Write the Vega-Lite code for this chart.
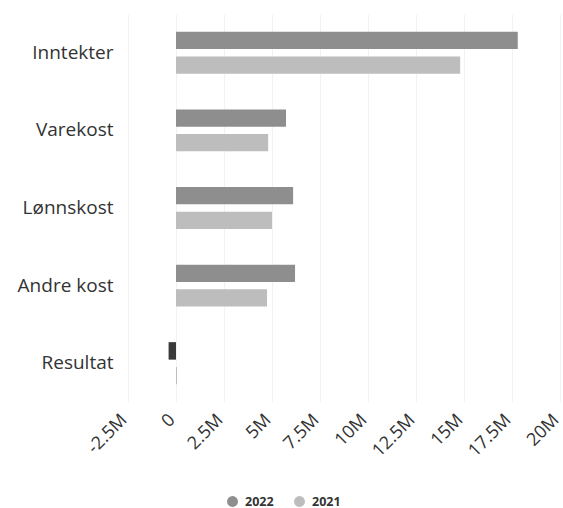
{
  "$schema": "https://vega.github.io/schema/vega-lite/v6.json",
  "width": 432,
  "height": 388,
  "autosize": "none",
  "padding": {"left": 128, "top": 14, "right": 3, "bottom": 106},
  "background": "white",
  "config": {"view": {"stroke": null}, "font": "Open Sans"},
  "data": {
    "values": [
      {"kategori": "Inntekter", "år": "2022", "verdi": 17800000},
      {"kategori": "Inntekter", "år": "2021", "verdi": 14800000},
      {"kategori": "Varekost", "år": "2022", "verdi": 5730000},
      {"kategori": "Varekost", "år": "2021", "verdi": 4800000},
      {"kategori": "Lønnskost", "år": "2022", "verdi": 6100000},
      {"kategori": "Lønnskost", "år": "2021", "verdi": 5000000},
      {"kategori": "Andre kost", "år": "2022", "verdi": 6200000},
      {"kategori": "Andre kost", "år": "2021", "verdi": 4740000},
      {"kategori": "Resultat", "år": "2022", "verdi": -380000},
      {"kategori": "Resultat", "år": "2021", "verdi": 50000}
    ]
  },
  "encoding": {
    "y": {
      "field": "kategori",
      "type": "nominal",
      "sort": ["Inntekter", "Varekost", "Lønnskost", "Andre kost", "Resultat"],
      "scale": {"paddingInner": 0.46, "paddingOuter": 0.23},
      "axis": {
        "title": null,
        "domain": false,
        "ticks": false,
        "labelFontSize": 19,
        "labelColor": "#333333",
        "labelPadding": 15
      }
    },
    "yOffset": {
      "field": "år",
      "type": "nominal",
      "sort": ["2022", "2021"],
      "scale": {"paddingInner": 0.3}
    },
    "x": {
      "field": "verdi",
      "type": "quantitative",
      "scale": {"domain": [-2500000, 20000000], "nice": false},
      "axis": {
        "title": null,
        "values": [-2500000, 0, 2500000, 5000000, 7500000, 10000000, 12500000, 15000000, 17500000, 20000000],
        "labelExpr": "datum.value == 0 ? '0' : (datum.value < 0 ? '-' : '') + format(abs(datum.value) / 1000000, '~g') + 'M'",
        "labelOverlap": false,
        "labelAngle": -45,
        "labelAlign": "right",
        "labelBaseline": "middle",
        "labelFontSize": 18,
        "labelColor": "#333333",
        "labelPadding": 15,
        "labelOffset": -4,
        "domain": false,
        "ticks": false,
        "grid": true,
        "gridColor": "#f2f2f2"
      }
    }
  },
  "layer": [
    {
      "mark": {"type": "bar"},
      "encoding": {
        "fill": {
          "field": "år",
          "type": "nominal",
          "sort": ["2022", "2021"],
          "scale": {"domain": ["2022", "2021"], "range": ["#8e8e8e", "#bdbdbd"]},
          "legend": {
            "title": null,
            "orient": "none",
            "direction": "horizontal",
            "legendX": 98,
            "legendY": 481,
            "symbolType": "circle",
            "symbolSize": 120,
            "labelFontSize": 12.5,
            "labelFontWeight": "bold",
            "labelColor": "#333333",
            "labelOffset": 6,
            "columnPadding": 19
          }
        }
      }
    },
    {
      "transform": [{"filter": "datum.verdi < 0"}],
      "mark": {"type": "bar", "fill": "#3a3a3a"}
    }
  ]
}
